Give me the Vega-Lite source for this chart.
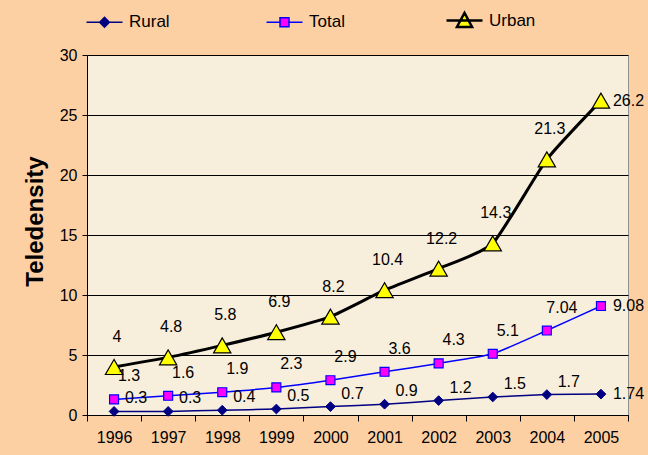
{
  "$schema": "https://vega.github.io/schema/vega-lite/v6.json",
  "autosize": "none",
  "width": 541,
  "height": 360,
  "padding": {"left": 87, "top": 55, "right": 20, "bottom": 40},
  "background": "#FDD0A4",
  "config": {
    "font": "Liberation Sans",
    "view": {"fill": "#F8EEDC", "stroke": "#909090", "strokeWidth": 1}
  },
  "data": {
    "values": [
      {"year": "1996", "series": "Rural", "value": 0.3},
      {"year": "1997", "series": "Rural", "value": 0.3},
      {"year": "1998", "series": "Rural", "value": 0.4},
      {"year": "1999", "series": "Rural", "value": 0.5},
      {"year": "2000", "series": "Rural", "value": 0.7},
      {"year": "2001", "series": "Rural", "value": 0.9},
      {"year": "2002", "series": "Rural", "value": 1.2},
      {"year": "2003", "series": "Rural", "value": 1.5},
      {"year": "2004", "series": "Rural", "value": 1.7},
      {"year": "2005", "series": "Rural", "value": 1.74},
      {"year": "1996", "series": "Total", "value": 1.3},
      {"year": "1997", "series": "Total", "value": 1.6},
      {"year": "1998", "series": "Total", "value": 1.9},
      {"year": "1999", "series": "Total", "value": 2.3},
      {"year": "2000", "series": "Total", "value": 2.9},
      {"year": "2001", "series": "Total", "value": 3.6},
      {"year": "2002", "series": "Total", "value": 4.3},
      {"year": "2003", "series": "Total", "value": 5.1},
      {"year": "2004", "series": "Total", "value": 7.04},
      {"year": "2005", "series": "Total", "value": 9.08},
      {"year": "1996", "series": "Urban", "value": 4},
      {"year": "1997", "series": "Urban", "value": 4.8},
      {"year": "1998", "series": "Urban", "value": 5.8},
      {"year": "1999", "series": "Urban", "value": 6.9},
      {"year": "2000", "series": "Urban", "value": 8.2},
      {"year": "2001", "series": "Urban", "value": 10.4},
      {"year": "2002", "series": "Urban", "value": 12.2},
      {"year": "2003", "series": "Urban", "value": 14.3},
      {"year": "2004", "series": "Urban", "value": 21.3},
      {"year": "2005", "series": "Urban", "value": 26.2}
    ]
  },
  "encoding": {
    "x": {
      "field": "year",
      "type": "ordinal",
      "scale": {"type": "band", "paddingInner": 0, "paddingOuter": 0},
      "axis": {
        "title": null,
        "labelAngle": 0,
        "tickBand": "extent",
        "domainColor": "#000000",
        "tickColor": "#000000",
        "tickSize": 6,
        "labelFontSize": 16,
        "labelColor": "#000000",
        "labelPadding": 8,
        "grid": false
      }
    },
    "y": {
      "field": "value",
      "type": "quantitative",
      "scale": {"domain": [0, 30], "nice": false},
      "axis": {
        "title": "Teledensity",
        "titleFontSize": 24,
        "titleFontWeight": "bold",
        "titleColor": "#000000",
        "titlePadding": 12,
        "titleY": 166,
        "values": [0, 5, 10, 15, 20, 25, 30],
        "domainColor": "#000000",
        "tickColor": "#000000",
        "tickSize": 5,
        "labelFontSize": 16,
        "labelColor": "#000000",
        "labelPadding": 5,
        "gridColor": "#000000",
        "gridWidth": 1
      }
    }
  },
  "layer": [
    {
      "mark": {"type": "line", "interpolate": "cardinal", "tension": 0.5},
      "encoding": {
        "color": {
          "field": "series",
          "type": "nominal",
          "scale": {"domain": ["Rural", "Total", "Urban"], "range": ["#000080", "#0000FF", "#000000"]},
          "legend": {
            "title": null,
            "orient": "none",
            "legendX": 9,
            "legendY": -43,
            "padding": 0,
            "direction": "horizontal",
            "columns": 3,
            "gridAlign": "all",
            "columnPadding": 85,
            "symbolSize": 1296,
            "labelFontSize": 17,
            "labelColor": "#000000",
            "labelOffset": 16,
            "encoding": {
              "symbols": {
                "size": {"value": 1296},
                "shape": {"value": {"expr": "datum.value === 'Rural' ? 'M-1,0H1M0,-0.27L0.27,0L0,0.27L-0.27,0Z' : datum.value === 'Total' ? 'M-1,0H-0.25M0.25,0H1M-0.25,-0.25H0.25V0.25H-0.25Z' : 'M-1,0H1M0,-0.42L0.42,0.36L-0.42,0.36Z'"}},
                "fill": {"value": {"expr": "datum.value === 'Rural' ? '#000080' : datum.value === 'Total' ? '#FF00FF' : '#FFFF00'"}},
                "stroke": {"value": {"expr": "datum.value === 'Rural' ? '#000080' : datum.value === 'Total' ? '#0000FF' : '#000000'"}},
                "strokeWidth": {"value": {"expr": "datum.value === 'Urban' ? 2.5 : 1.5"}},
                "opacity": {"value": 1}
              }
            }
          }
        },
        "strokeWidth": {
          "condition": {"test": "datum.series === 'Urban'", "value": 3},
          "value": 1.5
        }
      }
    },
    {
      "transform": [{"filter": "datum.series === 'Rural'"}],
      "mark": {"type": "point", "shape": "diamond", "filled": true, "fill": "#000080", "stroke": "#000080", "strokeWidth": 1, "size": 95, "opacity": 1}
    },
    {
      "transform": [{"filter": "datum.series === 'Total'"}],
      "mark": {"type": "point", "shape": "square", "filled": true, "fill": "#FF00FF", "stroke": "#0000FF", "strokeWidth": 1.2, "size": 80, "opacity": 1}
    },
    {
      "transform": [{"filter": "datum.series === 'Urban'"}],
      "mark": {"type": "point", "shape": "triangle-up", "filled": true, "fill": "#FFFF00", "stroke": "#000000", "strokeWidth": 1.2, "size": 300, "opacity": 1}
    },
    {
      "transform": [{"filter": "datum.series === 'Rural' && datum.year !== '2005'"}],
      "mark": {"type": "text", "dx": 22, "dy": -13, "fontSize": 16, "color": "#000000"},
      "encoding": {"text": {"field": "value", "type": "quantitative", "format": "~g"}}
    },
    {
      "transform": [{"filter": "datum.series === 'Total' && datum.year !== '2005'"}],
      "mark": {"type": "text", "dx": 15, "dy": -23, "fontSize": 16, "color": "#000000"},
      "encoding": {"text": {"field": "value", "type": "quantitative", "format": "~g"}}
    },
    {
      "transform": [{"filter": "datum.series === 'Urban' && datum.year !== '2005'"}],
      "mark": {"type": "text", "dx": 3, "dy": -30, "fontSize": 16, "color": "#000000"},
      "encoding": {"text": {"field": "value", "type": "quantitative", "format": "~g"}}
    },
    {
      "transform": [{"filter": "datum.year === '2005'"}],
      "mark": {"type": "text", "align": "left", "dx": 12, "dy": 0, "fontSize": 16, "color": "#000000"},
      "encoding": {"text": {"field": "value", "type": "quantitative", "format": "~g"}}
    }
  ]
}
